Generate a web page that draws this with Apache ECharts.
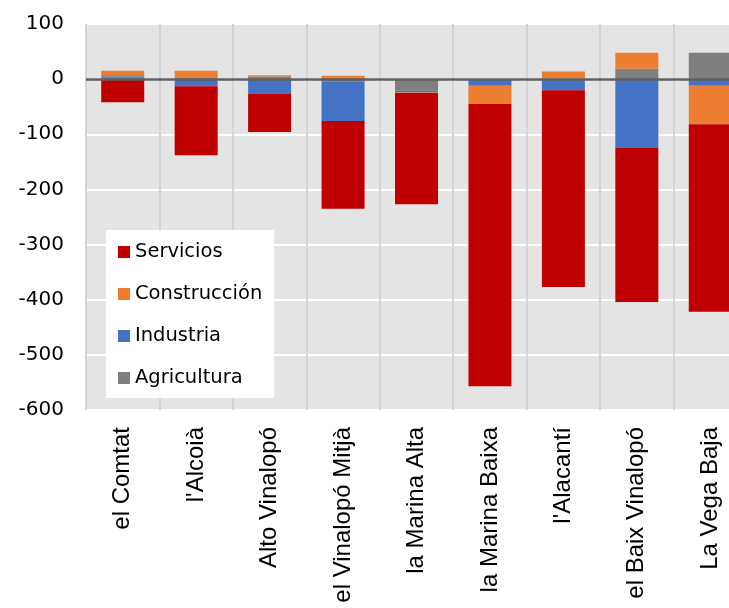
<!DOCTYPE html>
<html>
<head>
<meta charset="utf-8">
<script src="https://cdn.jsdelivr.net/npm/echarts@6/dist/echarts.min.js"></script>
<style>
  html, body { margin: 0; padding: 0; background: #fff; overflow: hidden; }
  #chart { width: 729px; height: 608px; }
</style>
</head>
<body>
<div id="chart"></div>
<script>
// comarcas
const categories = ['el Comtat', "l'Alcoià", 'Alto Vinalopó', 'el Vinalopó Mitjà', 'la Marina Alta', 'la Marina Baixa', "l'Alacantí", 'el Baix Vinalopó', 'La Vega Baja']

// values per sector (stack order: agricultura at the bottom)
const agricultura = [5, 2, 5, -4, -21, 0, 1, 19, 48]
const industria = [2, -13, -26, -72, -3, -12, -20, -124, -12]
const construccion = [8, 13, 2, 6, -1, -33, 13, 29, -70]
const servicios = [-42, -125, -70, -159, -202, -512, -357, -280, -340]

const yTicks = { min: -600, max: 100, interval: 100 }

const chart = echarts.init(document.getElementById('chart'))

function bar(name, data, color) {
  return {
    name: name,
    type: 'bar',
    stack: 'total',
    data: data,
    barWidth: 43,
    itemStyle: { color: color },
    emphasis: { disabled: true }
  }
}

const series = [
  bar('Agricultura', agricultura, '#7f7f7f'),
  bar('Industria', industria, '#4472c4'),
  bar('Construcción', construccion, '#ed7d31'),
  bar('Servicios', servicios, '#c00000')
]
// zero line on top of bars
series[3].markLine = {
  silent: true,
  symbol: 'none',
  label: { show: false },
  lineStyle: { color: '#5f5f5f', width: 2.5, type: 'solid' },
  data: [{ yAxis: 0 }],
  z: 10
}

const option = {
  animation: false,
  grid: {
    left: 86,
    top: 24,
    right: -18,
    bottom: 198,
    outerBoundsMode: 'none',
    containLabel: false,
    show: true,
    backgroundColor: '#e4e4e4',
    borderWidth: 0
  },
  legend: {
    orient: 'vertical',
    left: 106,
    top: 230,
    backgroundColor: '#ffffff',
    padding: [11, 12, 9, 12],
    itemWidth: 12,
    itemHeight: 12,
    itemGap: 20,
    icon: 'rect',
    data: ['Servicios', 'Construcción', 'Industria', 'Agricultura'],
    textStyle: { fontFamily: 'DejaVu Sans', fontSize: 19.5, color: '#000', lineHeight: 22 }
  },
  xAxis: {
    type: 'category',
    data: categories,
    axisLine: { show: false, onZero: false },
    axisTick: { show: false },
    splitLine: { show: true, lineStyle: { color: '#d4d4d4', width: 2 } },
    axisLabel: {
      rotate: 90,
      margin: 17,
      interval: 0,
      fontFamily: 'Liberation Sans',
      fontSize: 24,
      color: '#000'
    }
  },
  yAxis: {
    type: 'value',
    min: yTicks.min,
    max: yTicks.max,
    interval: yTicks.interval,
    axisLine: { show: false },
    axisTick: { show: false },
    splitLine: { lineStyle: { color: '#ffffff', width: 2 } },
    axisLabel: { margin: 22, fontFamily: 'DejaVu Sans', fontSize: 20, color: '#000' }
  },
  series: series
}

chart.setOption(option)
</script>
</body>
</html>
